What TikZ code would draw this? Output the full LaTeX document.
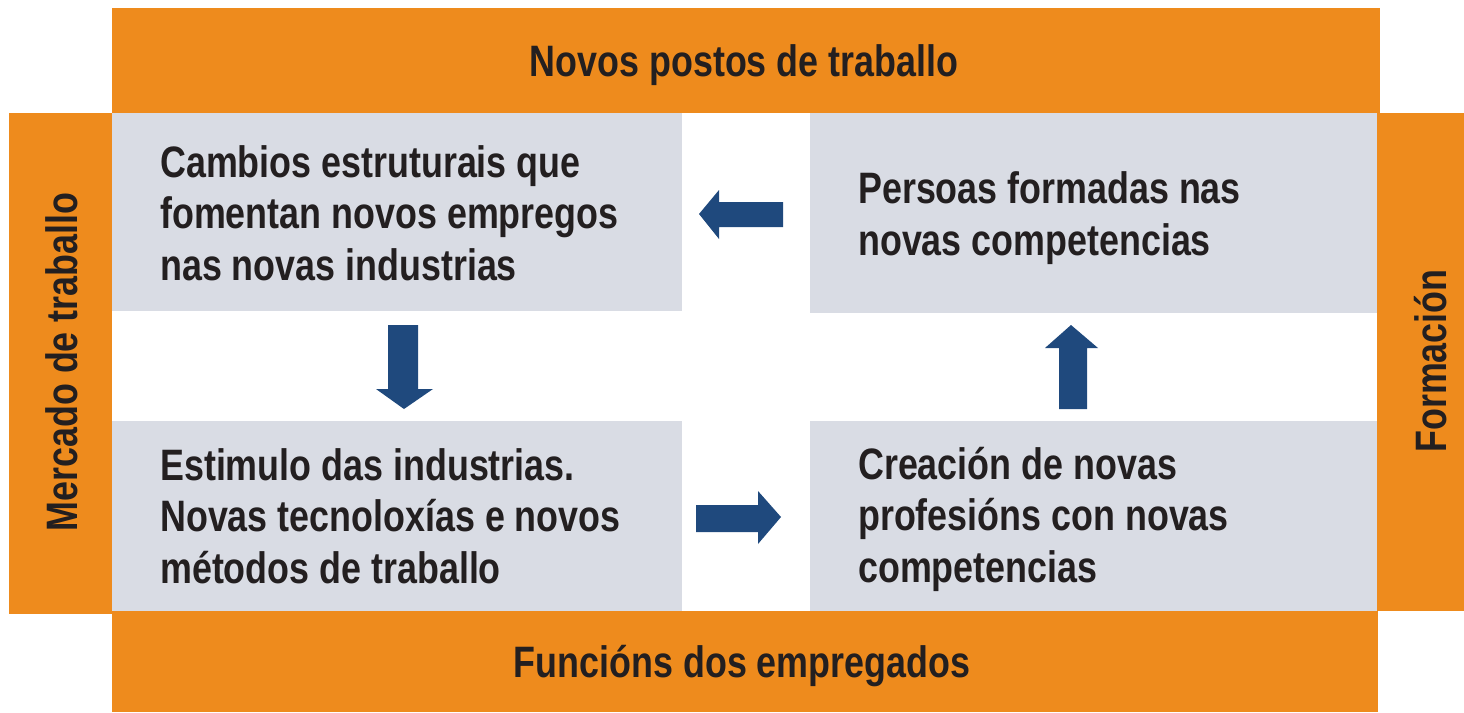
\documentclass[tikz,border=0pt]{standalone}
\usepackage{fontspec}
\setmainfont{Liberation Sans}[BoldFont={* Bold}, BoldFeatures={FakeStretch=0.815}]
\definecolor{orangebar}{RGB}{238,139,29}
\definecolor{graybox}{RGB}{217,220,228}
\definecolor{arrowblue}{RGB}{31,73,125}
\definecolor{textdark}{RGB}{35,31,32}
\begin{document}
\begin{tikzpicture}[x=1pt,y=-1pt,
  bar/.style={fill=orangebar, draw=none},
  panel/.style={fill=graybox, draw=none},
  lbl/.style={inner sep=0pt, text=textdark, font=\bfseries\fontsize{44}{51.5}\selectfont, align=left},
  barlbl/.style={inner sep=0pt, text=textdark, font=\bfseries\fontsize{44}{51.5}\selectfont},
  blockarrow/.style={fill=arrowblue, draw=none}]
\useasboundingbox (0,0) rectangle (1464,712);
% orange frame
\fill[bar] (112,8) rectangle (1380,113);
\fill[bar] (9,113) rectangle (112,614);
\fill[bar] (1377,113) rectangle (1464,611);
\fill[bar] (112,611) rectangle (1378,712);
\node[barlbl] (top) at (744,65) {Novos postos de traballo};
\node[barlbl] (bottom) at (742,666) {Funcións dos empregados};
\node[barlbl, rotate=90] (left) at (62,362) {Mercado de traballo};
\node[barlbl, rotate=90] (right) at (1431,361) {Formación};
% gray panels
\fill[panel] (112,113) rectangle (682,311);
\fill[panel] (810,113) rectangle (1377,313);
\fill[panel] (112,421) rectangle (682,611);
\fill[panel] (810,421) rectangle (1377,611);
\node[lbl, anchor=west] (tl) at (160,213) {Cambios estruturais que\\fomentan novos empregos\\nas novas industrias};
\node[lbl, anchor=west] (tr) at (858,218) {Persoas formadas nas\\novas competencias};
\node[lbl, anchor=west] (bl) at (160,516) {Estimulo das industrias.\\Novas tecnoloxías e novos\\métodos de traballo};
\node[lbl, anchor=west] (br) at (858,519) {Creación de novas\\profesións con novas\\competencias};
% block arrows
\fill[blockarrow] (699,214) -- (719,190) -- (719,202) -- (783,202) -- (783,227) -- (719,227) -- (719,239) -- cycle;
\fill[blockarrow] (404,409) -- (376,389) -- (388,389) -- (388,325) -- (418,325) -- (418,389) -- (433,389) -- cycle;
\fill[blockarrow] (781,517) -- (758,491) -- (758,505) -- (696,505) -- (696,532) -- (758,532) -- (758,544) -- cycle;
\fill[blockarrow] (1071,325) -- (1045,348) -- (1059,348) -- (1059,409) -- (1087,409) -- (1087,348) -- (1098,348) -- cycle;
\end{tikzpicture}
\end{document}
